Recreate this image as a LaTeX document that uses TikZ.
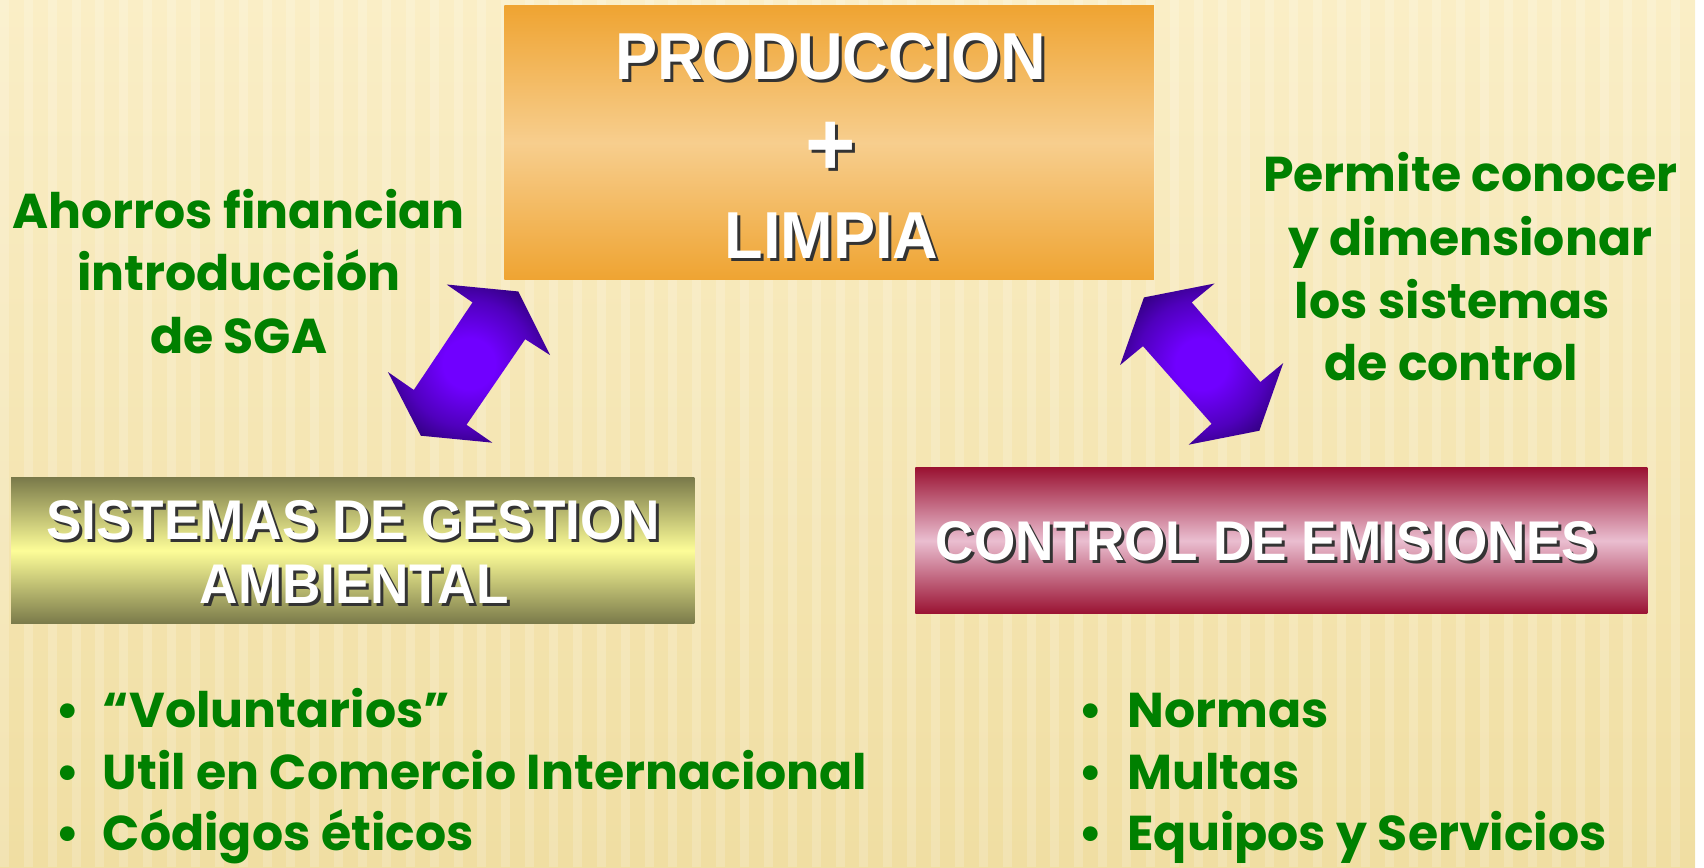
\documentclass[tikz,border=0pt]{standalone}
\usepackage{fontspec}
\usepackage{xcolor}
\usepackage{tikz}
\usetikzlibrary{positioning}
\newfontfamily\handfont{Poppins}
\newfontfamily\boxfont{Liberation Sans}[FakeStretch=0.95]
\definecolor{HandGreen}{RGB}{0,128,0}
\definecolor{PaperTop}{RGB}{250,238,198}
\definecolor{PaperBot}{RGB}{240,222,162}
\definecolor{ProdEdge}{RGB}{239,164,50}
\definecolor{ProdMid}{RGB}{247,206,142}
\definecolor{SgaEdge}{RGB}{122,122,74}
\definecolor{SgaMid}{RGB}{253,253,152}
\definecolor{CtrlEdge}{RGB}{154,18,50}
\definecolor{CtrlMid}{RGB}{234,190,208}
\definecolor{ArrowIn}{RGB}{112,0,255}
\definecolor{ArrowOut}{RGB}{40,0,108}
\pgfdeclareradialshading{arrowglow}{\pgfpoint{0bp}{0bp}}{%
    color(0bp)=(ArrowIn); color(8bp)=(ArrowIn); color(20bp)=(ArrowIn!55!ArrowOut); color(30bp)=(ArrowOut); color(50bp)=(ArrowOut)}
\tikzset{
    handtext/.style={text=HandGreen, font=\handfont\bfseries\fontsize{28}{34}\selectfont, inner sep=0pt, anchor=base},
    boxtext/.style={text=white, inner sep=0pt, anchor=base},
    bigfont/.style={font=\boxfont\bfseries\fontsize{38}{44}\selectfont},
    plusfont/.style={font=\boxfont\bfseries\fontsize{52}{58}\selectfont},
    smallfont/.style={font=\boxfont\bfseries\fontsize{32}{38}\selectfont}
}
% white label with a dark shadow under it
\newcommand{\shadowlabel}[4]{%
    \node[boxtext, #3, text=black!80, xshift=1.7pt, yshift=-1.7pt] at (#2) {#4};
    \node[boxtext, #3] (#1) at (#2) {#4};
}

\begin{document}
\begin{tikzpicture}[
                x=0.02cm, y=-0.02cm,
                prodbox/.style={
                    rectangle, 
                    minimum width=13.06cm, 
                    minimum height=5.5cm, 
                    top color=ProdEdge, 
                    bottom color=ProdEdge,
                    middle color=ProdMid, 
                    inner sep=0pt
                },
                sgabox/.style={rectangle, minimum width=13.74cm, minimum height=2.94cm, top color=SgaEdge, bottom color=SgaEdge, middle color=SgaMid},
                ctrlbox/.style={rectangle, minimum width=14.72cm, minimum height=2.94cm, top color=CtrlEdge, bottom color=CtrlEdge, middle color=CtrlMid},
                dblarrow/.style={shading=arrowglow}
            ]
                % fondo
                \shade[top color=PaperTop, bottom color=PaperBot] (0,0) rectangle (1704,872);
                \foreach \x in {0,24,...,1704}
                    \fill[white, opacity=0.18] (\x,0) rectangle ++(9,872);

                % cajas
                \node[prodbox] (prod) at (833.5,143.5) {};
                \node[sgabox] (sga) at (354.5,553.5) {};
                \node[ctrlbox] (ctrl) at (1288,543.5) {};

                \shadowlabel{prod1}{835,80}{bigfont}{PRODUCCION}
                \node[boxtext, plusfont, text=black!80, anchor=center, xshift=1.7pt, yshift=-1.7pt] at (835,150) {+};
                \node[boxtext, plusfont, anchor=center] (prod2) at (835,150) {+};
                \shadowlabel{prod3}{836,260}{bigfont}{LIMPIA}
                \shadowlabel{sga1}{355,542}{smallfont}{SISTEMAS DE GESTION}
                \shadowlabel{sga2}{356,607}{smallfont}{AMBIENTAL}
                \shadowlabel{ctrl1}{1273,563}{smallfont}{CONTROL DE EMISIONES}

                % flechas dobles
                \shade[dblarrow] (521,293) -- (553,357) -- (528,341) -- (469,427) -- (495,445)
                    -- (423,438) -- (390,374) -- (416,392) -- (475,304) -- (449,286) -- cycle;
                \shade[dblarrow] (1150,299) -- (1221,285) -- (1198,304) -- (1267,384) -- (1290,365)
                    -- (1266,433) -- (1195,447) -- (1218,426) -- (1149,348) -- (1126,367) -- cycle;

                % textos verdes
                \node[handtext] (ahorro1) at (240,230) {Ahorros financian};
                \node[handtext] (ahorro2) at (240,292) {introducción};
                \node[handtext] (ahorro3) at (240,355) {de SGA};
                \node[handtext] (permite1) at (1478,193) {Permite conocer};
                \node[handtext] (permite2) at (1478,257) {y dimensionar};
                \node[handtext] (permite3) at (1460,320) {los sistemas};
                \node[handtext] (permite4) at (1459,383) {de control};

                % listas
                \foreach \txt/\yy [count=\i] in {{“Voluntarios”}/731, {Util en Comercio Internacional}/794, {Códigos éticos}/855} {
                    \node[handtext] (sgadot\i) at (68,\yy) {•};
                    \node[handtext, anchor=base west] (sgaitem\i) at (103,\yy) {\txt};
                }
                \foreach \txt/\yy [count=\i] in {Normas/731, Multas/794, {Equipos y Servicios}/855} {
                    \node[handtext] (ctrldot\i) at (1097,\yy) {•};
                    \node[handtext, anchor=base west] (ctrlitem\i) at (1133,\yy) {\txt};
                }
            \end{tikzpicture}
\end{document}
